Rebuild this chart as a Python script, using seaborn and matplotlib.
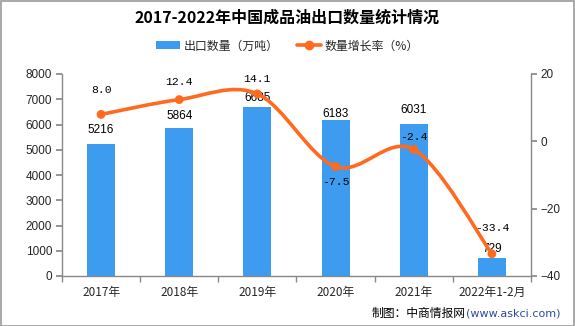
import matplotlib
matplotlib.use("Agg")
import matplotlib.pyplot as plt
from matplotlib.path import Path
from matplotlib.patches import PathPatch, Rectangle
from matplotlib.lines import Line2D
from matplotlib.patches import Patch
import seaborn as sns
import pandas as pd
import numpy as np

categories = ["2017年", "2018年", "2019年", "2020年", "2021年", "2022年1-2月"]
export_volume = [5216, 5864, 6685, 6183, 6031, 729]
growth_rate = [8.0, 12.4, 14.1, -7.5, -2.4, -33.4]
bar_label_text = ["5216", "5864", "6685", "6183", "6031", "729"]
rate_label_text = ["8.0", "12.4", "14.1", "-7.5", "-2.4", "-33.4"]

# styling: label offsets in pixels (positive = above)
bar_label_off = [14, 12, 9, 6, 14, 9]
rate_label_off = [24, 18, 15, -15, 12, 26]

sns.set_theme(style="white")
CJK = ["Noto Sans CJK SC", "DejaVu Sans"]
plt.rcParams["font.family"] = CJK

BAR_C = "#3D9BF0"
LINE_C = "#FF6A1F"
AX_C = "#888888"

W, H = 575, 326
fig = plt.figure(figsize=(W / 100, H / 100), dpi=100)
ax = fig.add_axes([62 / W, 1 - 276 / H, (531 - 62) / W, (276 - 74) / H])

df = pd.DataFrame({"cat": categories, "vol": export_volume, "rate": growth_rate})
df["x"] = np.arange(len(df))

sns.barplot(data=df, x="cat", y="vol", color=BAR_C, width=0.36, ax=ax,
            saturation=1, edgecolor="none")
ax.set_xlim(-0.5, len(categories) - 0.5)
ax.set_ylim(0, 8000)
ax.set_yticks(range(0, 8001, 1000))
ax.set_xlabel("")
ax.set_ylabel("")

ax2 = ax.twinx()
ax2.set_ylim(-40, 20)
ax2.set_yticks([-40, -20, 0, 20])
ax2.set_yticklabels(["−40", "−20", "0", "20"])

# smooth line (Catmull-Rom rendered as Bezier path)
xs = df["x"].to_numpy(dtype=float)
ys = df["rate"].to_numpy(dtype=float)
P = np.column_stack([xs, ys])
n = len(P)
verts = [tuple(P[0])]
codes = [Path.MOVETO]
for i in range(n - 1):
    p0 = P[i - 1] if i > 0 else P[i]
    p1 = P[i]
    p2 = P[i + 1]
    p3 = P[i + 2] if i + 2 < n else P[i + 1]
    c1 = p1 + (p2 - p0) / 6
    c2 = p2 - (p3 - p1) / 6
    verts += [tuple(c1), tuple(c2), tuple(p2)]
    codes += [Path.CURVE4] * 3
ax2.add_patch(PathPatch(Path(verts, codes), facecolor="none", edgecolor=LINE_C,
                        lw=2.6, capstyle="round", zorder=3))
sns.scatterplot(data=df, x="x", y="rate", ax=ax2, color=LINE_C, s=40,
                edgecolor="none", zorder=4, legend=False)
ax2.set_xlabel("")
ax2.set_ylabel("")
ax2.set_xlim(-0.5, len(categories) - 0.5)

num_font = "Liberation Sans"
mono_font = "Liberation Mono"
for i in range(n):
    ax.annotate(bar_label_text[i], (i, export_volume[i]), xytext=(0, bar_label_off[i] * 0.72),
                textcoords="offset points", ha="center", va="center",
                fontsize=8.5, family=num_font, color="black", zorder=5)
    ax2.annotate(rate_label_text[i], (i, growth_rate[i]), xytext=(0, rate_label_off[i] * 0.72),
                 textcoords="offset points", ha="center", va="center",
                 fontsize=8.2, family=mono_font, color="black", zorder=5)

# spines and ticks
for a in (ax, ax2):
    a.spines["top"].set_visible(False)
    for s in ("left", "right", "bottom"):
        a.spines[s].set_color(AX_C)
        a.spines[s].set_linewidth(1.0)
ax.spines["right"].set_visible(False)
ax2.spines["left"].set_visible(False)
ax2.spines["bottom"].set_visible(False)

ax.tick_params(axis="y", which="major", direction="out", length=4, color=AX_C,
               labelsize=8.5, pad=3, left=True)
ax2.tick_params(axis="y", which="major", direction="out", length=4, color=AX_C,
                labelsize=8.5, pad=3, right=True)
for lab in ax.get_yticklabels() + ax2.get_yticklabels():
    lab.set_family(num_font)
ax.set_xticks(np.arange(-0.5, n, 1.0), minor=True)
ax.tick_params(axis="x", which="minor", direction="out", length=4, color=AX_C, bottom=True)
ax.tick_params(axis="x", which="major", length=0, labelsize=8.5, pad=7)
for lab in ax.get_xticklabels():
    lab.set_family(CJK)
ax2.set_zorder(ax.get_zorder() + 1)
ax2.patch.set_visible(False)

# title
fig.text(0.5, 1 - 18 / H, "2017-2022年中国成品油出口数量统计情况", ha="center", va="center",
         fontsize=11.5, fontweight="bold", family=CJK, color="black")

# legend
handles = [Patch(facecolor=BAR_C, edgecolor="none"),
           Line2D([0], [0], color=LINE_C, lw=2.6, marker="o", markersize=6)]
fig.legend(handles, ["出口数量（万吨）", "数量增长率（%）"], loc="center",
           bbox_to_anchor=(0.5, 1 - 46 / H), ncol=2, frameon=False,
           prop={"family": CJK, "size": 8.6}, handlelength=2.0, handleheight=0.6,
           columnspacing=1.6, handletextpad=0.25)

# footer
fig.text(466 / W, 1 - 313 / H, "制图：中商情报网", ha="right", va="center",
         fontsize=8.5, family=CJK, color="black")
fig.text(466 / W, 1 - 313 / H, "(www.askci.com)", ha="left", va="center",
         fontsize=8, family=["DejaVu Sans"], color="#2B4C9B")

# border
fig.patches.append(Rectangle((0.5 / W, 0.5 / H), 1 - 1.5 / W, 1 - 1.5 / H,
                             transform=fig.transFigure, fill=False,
                             edgecolor="#999999", lw=1.2))

fig.savefig("out.png", dpi=100)
